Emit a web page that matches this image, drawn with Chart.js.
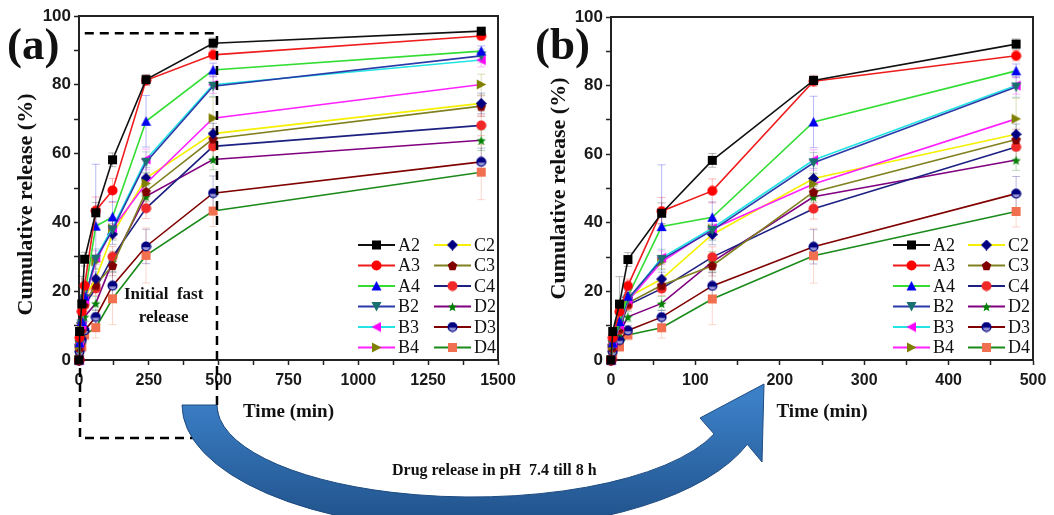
<!DOCTYPE html>
<html>
<head>
<meta charset="utf-8">
<script src="https://cdn.jsdelivr.net/npm/chart.js@4.4.1/dist/chart.umd.min.js"></script>
<style>
  body { margin:0; background:#fff; width:1054px; height:515px; overflow:hidden; position:relative; }
  canvas { position:absolute; top:0; }
  #chartA { left:0; }
  #chartB { left:530px; }
  #arrow { left:0; pointer-events:none; }
  .lbl { position:absolute; font-family:"Liberation Serif","Times New Roman",serif; font-weight:bold; color:#111; white-space:nowrap; }
</style>
</head>
<body>
<canvas id="chartA" width="530" height="515"></canvas>
<canvas id="chartB" width="524" height="515"></canvas>
<canvas id="arrow" width="1054" height="515"></canvas>
<div class="lbl" style="left:7px;top:18px;font-size:45px">(a)</div>
<div class="lbl" style="left:535px;top:18px;font-size:45px">(b)</div>
<div class="lbl" style="left:124px;top:282px;font-size:17px;text-align:center;line-height:23px">Initial&nbsp; fast<br>release</div>
<div class="lbl" style="left:392px;top:461px;font-size:16px">Drug release in pH&nbsp; 7.4 till 8 h</div>
<script>
// time points (min)
const times = [0, 2, 10, 20, 60, 120, 240, 480, 1440];
const names = ['A2', 'A3', 'A4', 'B2', 'B3', 'B4', 'C2', 'C3', 'C4', 'D2', 'D3', 'D4'];

// cumulative release (%)
const A2 = [0, 8.3, 16.3, 29.3, 42.8, 58.2, 81.5, 92.1, 95.6];
const A3 = [0, 6.5, 14.1, 21.6, 43.4, 49.3, 81.3, 88.7, 94.2];
const A4 = [0, 5.0, 11.2, 18.6, 38.9, 41.6, 69.4, 84.3, 89.8];
const B2 = [0, 4.5, 10.5, 17.8, 29.3, 37.8, 57.5, 79.6, 88.4];
const B3 = [0, 4.8, 10.2, 17.6, 29.8, 38.4, 58.3, 80.0, 87.2];
const B4 = [0, 4.2, 9.6, 17.2, 28.6, 38.2, 51.3, 70.3, 80.1];
const C2 = [0, 4.4, 10.8, 18.3, 23.6, 36.6, 52.9, 65.8, 74.6];
const C3 = [0, 3.8, 9.3, 16.6, 21.8, 27.5, 49.0, 64.3, 73.8];
const C4 = [0, 3.6, 8.8, 16.0, 20.8, 30.0, 44.1, 62.1, 68.2];
const D2 = [0, 3.3, 7.9, 12.6, 16.5, 28.6, 47.6, 58.3, 63.9];
const D3 = [0, 2.5, 5.8, 8.6, 12.5, 21.6, 33.0, 48.5, 57.6];
const D4 = [0, 1.5, 3.8, 7.3, 9.4, 17.8, 30.4, 43.3, 54.6];
const values = [A2, A3, A4, B2, B3, B4, C2, C3, C4, D2, D3, D4];

// standard deviations (%)
const errA2 = [0, 1, 8, 2, 3, 2, 1.5, 1.5, 1];
const errA3 = [0, 1, 2, 2, 4, 3.5, 1.5, 1.5, 1];
const errA4 = [0, 1, 2, 2, 18, 4.5, 7.5, 2, 1.5];
const errB2 = [0, 1, 1, 2, 3, 3, 3, 3, 2];
const errB3 = [0, 1, 1, 2, 2, 3, 3, 2.5, 2];
const errB4 = [0, 1, 1, 2, 2, 3, 3, 6, 3];
const errC2 = [0, 1, 1, 2, 2, 3, 3, 3, 3];
const errC3 = [0, 1, 1, 1.5, 2, 3, 3, 3, 3];
const errC4 = [0, 1, 1, 1.5, 2, 3, 3, 4, 3];
const errD2 = [0, 1, 1, 1.5, 2, 3, 3, 3, 3];
const errD3 = [0, 1, 1, 1.5, 2, 4, 5, 5, 4];
const errD4 = [0, 1, 1, 1.5, 3, 7.5, 8, 4.5, 8];
const errors = [errA2, errA3, errA4, errB2, errB3, errB4, errC2, errC3, errC4, errD2, errD3, errD4];

const yTicks = [0, 20, 40, 60, 80, 100];
const xTicksA = [0, 250, 500, 750, 1000, 1250, 1500];
const xTicksB = [0, 100, 200, 300, 400, 500];

// line colour, marker colour, marker shape
const styles = [
  ['#111111', '#000000', 'square'],
  ['#ee1c1c', '#ff0000', 'circle'],
  ['#33dd33', '#0000ee', 'up'],
  ['#2a3aa8', '#1a7070', 'down'],
  ['#22e4e4', '#ff00ff', 'left'],
  ['#ff22ff', '#808000', 'right'],
  ['#f4f000', '#000080', 'diamond'],
  ['#808020', '#800000', 'pentagon'],
  ['#1c2080', '#f02828', 'circle'],
  ['#800080', '#008000', 'star'],
  ['#800000', '#000080', 'ball'],
  ['#1a8a1a', '#f07050', 'square']
];

function makeMarker(shape, color, size) {
  const c = document.createElement('canvas');
  c.width = c.height = size;
  const g = c.getContext('2d');
  const m = size / 2, r = size / 2 - 0.5;
  g.fillStyle = color;
  g.beginPath();
  if (shape === 'square') g.rect(1, 1, size - 2, size - 2);
  else if (shape === 'circle' || shape === 'ball') g.arc(m, m, r, 0, Math.PI * 2);
  else if (shape === 'up') { g.moveTo(m, 0.5); g.lineTo(size - 0.5, size - 1); g.lineTo(0.5, size - 1); }
  else if (shape === 'down') { g.moveTo(0.5, 1); g.lineTo(size - 0.5, 1); g.lineTo(m, size - 0.5); }
  else if (shape === 'left') { g.moveTo(0.5, m); g.lineTo(size - 1, 0.5); g.lineTo(size - 1, size - 0.5); }
  else if (shape === 'right') { g.moveTo(size - 0.5, m); g.lineTo(1, 0.5); g.lineTo(1, size - 0.5); }
  else if (shape === 'diamond') { g.moveTo(m, 0); g.lineTo(size, m); g.lineTo(m, size); g.lineTo(0, m); }
  else if (shape === 'pentagon') {
    for (let i = 0; i < 5; i++) {
      const a = -Math.PI / 2 + i * 2 * Math.PI / 5;
      g.lineTo(m + r * Math.cos(a), m + 0.6 + r * Math.sin(a));
    }
  } else if (shape === 'star') {
    for (let i = 0; i < 10; i++) {
      const a = -Math.PI / 2 + i * Math.PI / 5;
      const rr = i % 2 ? r * 0.42 : r;
      g.lineTo(m + rr * Math.cos(a), m + 0.8 + rr * Math.sin(a));
    }
  }
  g.closePath();
  g.fill();
  if (shape === 'ball') {
    g.fillStyle = '#9a9ad8';
    g.beginPath();
    g.arc(m, m, r * 0.75, 0.2, Math.PI - 0.2);
    g.closePath();
    g.fill();
  }
  return c;
}

const markers = styles.map(s => makeMarker(s[2], s[1], 11));

function buildDatasets(n) {
  return names.map((name, i) => ({
    label: name,
    data: times.slice(0, n).map((t, j) => ({ x: t, y: values[i][j], err: errors[i][j] })),
    borderColor: styles[i][0],
    backgroundColor: styles[i][1],
    borderWidth: 1.6,
    pointStyle: markers[i],
    pointRadius: 5,
    tension: 0,
    fill: false,
    clip: false
  }));
}

// faint error bars behind the lines
const errorBarPlugin = {
  id: 'errorBars',
  beforeDatasetsDraw(chart) {
    const { ctx, scales: { x, y } } = chart;
    ctx.save();
    ctx.globalAlpha = 0.28;
    ctx.lineWidth = 1;
    chart.data.datasets.forEach(ds => {
      ctx.strokeStyle = ds.backgroundColor;
      ds.data.forEach(p => {
        if (!p.err) return;
        const px = x.getPixelForValue(p.x);
        const y0 = y.getPixelForValue(p.y - p.err), y1 = y.getPixelForValue(p.y + p.err);
        ctx.beginPath();
        ctx.moveTo(px, y0); ctx.lineTo(px, y1);
        ctx.moveTo(px - 4, y0); ctx.lineTo(px + 4, y0);
        ctx.moveTo(px - 4, y1); ctx.lineTo(px + 4, y1);
        ctx.stroke();
      });
    });
    ctx.restore();
  }
};

const legendPlugin = {
  id: 'boxLegend',
  afterDraw(chart, args, opts) {
    const ctx = chart.ctx;
    ctx.save();
    ctx.font = '18px "Liberation Serif", "Times New Roman", serif';
    ctx.textBaseline = 'middle';
    chart.data.datasets.forEach((ds, i) => {
      const x = opts.x + Math.floor(i / 6) * opts.colGap;
      const y = opts.y + (i % 6) * opts.rowGap;
      ctx.strokeStyle = ds.borderColor;
      ctx.lineWidth = 1.8;
      ctx.beginPath();
      ctx.moveTo(x, y);
      ctx.lineTo(x + 37, y);
      ctx.stroke();
      ctx.drawImage(ds.pointStyle, x + 18.5 - 5.5, y - 5.5);
      ctx.fillStyle = '#111';
      ctx.fillText(ds.label, x + 40, y + 1);
    });
    ctx.restore();
  }
};

const framePlugin = {
  id: 'frame',
  afterDraw(chart, args, opts) {
    const { ctx, chartArea: a } = chart;
    ctx.save();
    ctx.strokeStyle = '#222';
    ctx.lineWidth = 2;
    ctx.beginPath();
    ctx.moveTo(a.left, a.top);
    ctx.lineTo(a.right, a.top);
    ctx.lineTo(a.right, a.bottom);
    ctx.stroke();
    if (opts.box) {
      // dashed "initial fast release" window
      const x0 = chart.scales.x.getPixelForValue(0);
      const x1 = chart.scales.x.getPixelForValue(opts.box.x);
      const y0 = chart.scales.y.getPixelForValue(opts.box.y);
      ctx.setLineDash([9, 6]);
      ctx.lineWidth = 2.5;
      ctx.strokeStyle = '#000';
      ctx.beginPath();
      ctx.moveTo(x0 + 1, a.bottom + 8);
      ctx.lineTo(x0 + 1, opts.box.bottom);
      ctx.lineTo(x1, opts.box.bottom);
      ctx.lineTo(x1, y0);
      ctx.lineTo(x0 + 1, y0);
      ctx.stroke();
    }
    ctx.restore();
  }
};

const tickFont = { family: '"Liberation Sans", Arial, sans-serif', weight: 'bold', size: 16 };
const titleFont = { family: '"Liberation Serif", "Times New Roman", serif', weight: 'bold', size: 22 };

function makeChart(id, n, xMax, xStep, xLabels, yWidth, pad, legend, box, yTitle, yTitlePad) {
  return new Chart(document.getElementById(id), {
    type: 'line',
    data: { datasets: buildDatasets(n) },
    plugins: [errorBarPlugin, legendPlugin, framePlugin],
    options: {
      responsive: false,
      animation: false,
      events: [],
      layout: { padding: pad },
      plugins: {
        legend: { display: false },
        tooltip: { enabled: false },
        boxLegend: legend,
        frame: { box: box }
      },
      scales: {
        x: {
          type: 'linear', min: 0, max: xMax,
          afterFit: s => { s.height = 70; },
          ticks: {
            stepSize: xStep, autoSkip: false, maxRotation: 0, padding: 6,
            color: '#1a1a1a', font: tickFont,
            callback: v => xLabels.includes(v) ? String(v) : ''
          },
          grid: { drawOnChartArea: false, tickLength: 5, color: '#222', tickWidth: 1.5 },
          border: { color: '#222', width: 2 },
          title: { display: true, text: 'Time (min)', color: '#111', font: { ...titleFont, size: 19 }, padding: { top: 0, bottom: 7 } }
        },
        y: {
          min: 0, max: 100,
          afterFit: s => { s.width = yWidth; },
          ticks: {
            stepSize: 10, autoSkip: false, padding: 3,
            color: '#1a1a1a', font: { ...tickFont, size: 17 },
            callback: v => yTicks.includes(v) ? String(v) : ''
          },
          grid: { drawOnChartArea: false, tickLength: 5, color: '#222', tickWidth: 1.5 },
          border: { color: '#222', width: 2 },
          title: { display: true, text: yTitle, color: '#111', font: titleFont, padding: { top: yTitlePad, bottom: 0 } }
        }
      }
    }
  });
}

makeChart('chartA', 9, 1500, 125, xTicksA, 79, { left: 0, right: 32, top: 16, bottom: 85 },
  { x: 358, y: 245, colGap: 76, rowGap: 20.5 }, { x: 494, y: 95, bottom: 438 },
  'Cumulative release (%)      ', 13);
makeChart('chartB', 8, 500, 50, xTicksB, 81, { left: 0, right: 21, top: 17, bottom: 85 },
  { x: 363, y: 245, colGap: 75, rowGap: 20.5 }, null, 'Cumulative release (%)', 16);

// curved arrow linking the two panels
const ac = document.getElementById('arrow').getContext('2d');
const grad = ac.createLinearGradient(0, 400, 0, 515);
grad.addColorStop(0, '#3b7fc6');
grad.addColorStop(1, '#22558f');
ac.fillStyle = grad;
ac.strokeStyle = '#1e4b80';
ac.lineWidth = 1;
ac.beginPath();
ac.ellipse(472, 405, 290, 125, 0, Math.PI, 0.32, true);
ac.lineTo(762, 462);
ac.lineTo(764, 384);
ac.lineTo(700, 418);
ac.ellipse(472, 405, 255, 92, 0, 0.32, Math.PI, false);
ac.closePath();
ac.fill();
ac.stroke();
</script>
</body>
</html>
